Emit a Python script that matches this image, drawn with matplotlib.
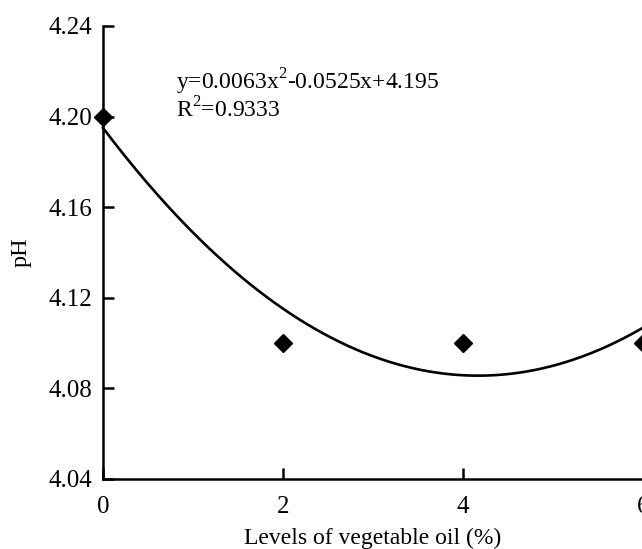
import numpy as np
import matplotlib
matplotlib.use("Agg")
import matplotlib.pyplot as plt

# data
levels = [0, 2, 4, 6]
ph = [4.20, 4.10, 4.10, 4.10]
# trendline coefficients printed on the chart
coef = [0.0063, -0.0525, 4.195]
yticks = [4.04, 4.08, 4.12, 4.16, 4.20, 4.24]

plt.rcParams['font.family'] = ['Liberation Serif', 'DejaVu Serif']
plt.rcParams['mathtext.fontset'] = 'custom'
plt.rcParams['mathtext.rm'] = 'Liberation Serif'

fig = plt.figure(figsize=(6.42, 5.49), dpi=100)
W, H = 642, 549
ax = fig.add_axes([103 / W, (H - 479) / H, 540 / W, (479 - 26) / H])

xs = np.linspace(0, 6, 200)
ax.plot(xs, np.polyval(coef, xs), color='black', lw=1.9, clip_on=False)
ax.plot(levels, ph, linestyle='none', marker='D', color='black', ms=9, clip_on=False, zorder=3)

ax.set_xlim(0, 6)
ax.set_ylim(4.04, 4.24)
ax.set_xticks(levels)
ax.set_yticks(yticks)
ax.set_yticklabels([f"{v:.2f}" for v in yticks])

for s in ['top', 'right']:
    ax.spines[s].set_visible(False)
for s in ['left', 'bottom']:
    ax.spines[s].set_linewidth(1.8)
ax.tick_params(direction='in', length=8, width=1.8, labelsize=18)
ax.tick_params(axis='x', pad=12)
ax.tick_params(axis='y', pad=8)

ax.set_xlabel('Levels of vegetable oil (%)', fontsize=17, labelpad=7)
ax.set_ylabel('pH', fontsize=17.5, labelpad=12)

ax.text(0.135, 0.91, 'y=0.0063x$^{\\mathrm{2}}$-0.0525x+4.195\nR$^{\\mathrm{2}}$=0.9333', transform=ax.transAxes,
        fontsize=17, va='top', ha='left', linespacing=1.0)

fig.savefig('out.png', dpi=100)
